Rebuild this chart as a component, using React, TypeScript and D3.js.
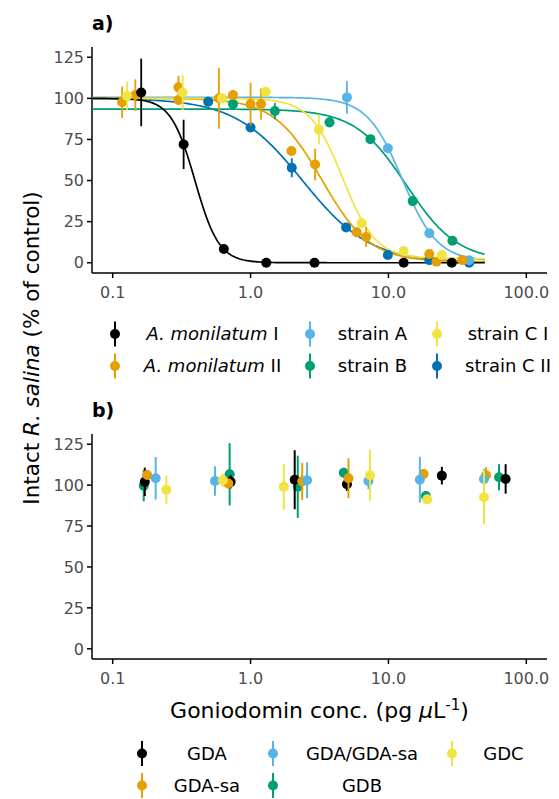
import React from "react";
import * as d3 from "d3";

// ---------- Panel a: dose-response data ----------
const seriesNamesA = ["A. monilatum I", "A. monilatum II", "strain A", "strain B", "strain C I", "strain C II"];
const legendItalicA = ["A. monilatum", "A. monilatum", "", "", "", ""];
const legendPlainA = [" I", " II", "strain A", "strain B", "strain C I", "strain C II"];
const colorsA = ["#000000", "#E69F00", "#56B4E9", "#009E73", "#F0E442", "#0072B2"];

const amI_conc = [0.161, 0.327, 0.64, 1.3, 2.91, 12.9, 28.8];
const amI_val = [103.6, 72.0, 8.3, 0, 0, 0, 0];
const amI_sd = [20.6, 15, 1.5, 0.3, 0.3, 0.3, 0.3];

const amII_conc = [0.117, 0.146, 0.3, 0.3, 0.59, 0.746, 1.0, 1.19, 1.98, 2.94, 5.89, 6.89, 19.8, 22.3, 34.4];
const amII_val = [97.6, 102, 106.7, 99, 100, 102, 96.5, 96.5, 68, 59.8, 18.5, 15.6, 5.3, 0.6, 1.6];
const amII_sd = [9.6, 9.6, 7, 3, 18.5, 3, 13, 9.5, 3, 9.5, 3, 6, 2, 1, 1];

const stA_conc = [5.0, 9.9, 19.8, 38.5];
const stA_val = [100.6, 69.6, 17.9, 1.5];
const stA_sd = [9.9, 2, 2, 1];

const stB_conc = [0.746, 1.5, 3.74, 7.4, 15.0, 29.1];
const stB_val = [96.5, 92.3, 85.4, 75.2, 37.5, 13.4];
const stB_sd = [3, 5, 3, 2, 2, 2];

const stCI_conc = [0.127, 0.322, 0.62, 1.29, 3.13, 6.4, 12.9, 24.4];
const stCI_val = [101.4, 103.6, 100, 104, 81.1, 24, 7.1, 4.7];
const stCI_sd = [8.8, 10.6, 2, 3, 9, 3, 2, 1.5];

const stCII_conc = [0.493, 1.0, 1.99, 4.93, 9.9, 19.8, 38.5];
const stCII_val = [98, 82.3, 57.8, 21.5, 4.7, 1.6, 0];
const stCII_sd = [2, 2, 5.8, 2, 1.5, 1, 0.5];

// fitted log-logistic curve parameters (per series, same order as seriesNamesA)
const fitTop = [100, 100, 100.6, 93.5, 100, 100];
const fitBottom = [0, 0.5, 1, 1, 2.5, 0];
const fitEC50 = [0.395, 3.3, 12.6, 13.5, 4.67, 2.38];
const fitSlope = [5.0, 2.5, 3.4, 2.34, 3.65, 1.775];
const fitMaxConc = 50;

// ---------- Panel b: pure toxin data ----------
const seriesNamesB = ["GDA", "GDA-sa", "GDA/GDA-sa", "GDB", "GDC"];
const colorsB = ["#000000", "#E69F00", "#56B4E9", "#009E73", "#F0E442"];

const gda_conc = [0.171, 0.717, 2.09, 5.0, 24.4, 70.8];
const gda_val = [102, 102, 103.3, 100.5, 105.8, 103.8];
const gda_sd = [8.7, 4, 18, 4, 5.4, 9];

const gdasa_conc = [0.178, 0.69, 2.37, 5.13, 18.0, 51];
const gdasa_val = [106.2, 101, 102.3, 104.2, 106.8, 106];
const gdasa_sd = [3, 3, 11.3, 12.2, 3, 5];

const mix_conc = [0.205, 0.552, 2.57, 7.16, 16.9, 49.3];
const mix_val = [104.2, 102.5, 103, 102.5, 103.3, 103.8];
const mix_sd = [13, 9, 11, 5, 14, 6];

const gdb_conc = [0.168, 0.705, 2.2, 4.74, 18.7, 63.4];
const gdb_val = [99.6, 106.6, 99, 107.6, 93.3, 104.8];
const gdb_sd = [9.5, 19, 19, 3, 3, 8];

const gdc_conc = [0.245, 0.63, 1.74, 7.36, 19.1, 49.3];
const gdc_val = [97.2, 103, 99, 106, 91.3, 92.6];
const gdc_sd = [8.6, 4, 14, 15.5, 2, 16.5];

// ---------- axes ----------
const xTicks = [0.1, 1, 10, 100];
const xTickLabels = ["0.1", "1.0", "10.0", "100.0"];
const yTicks = [0, 25, 50, 75, 100, 125];

const FONT = "'DejaVu Sans', sans-serif";

type Series = { name: string; color: string; conc: number[]; val: number[]; sd: number[] };

const panelA: Series[] = [
  { name: seriesNamesA[0], color: colorsA[0], conc: amI_conc, val: amI_val, sd: amI_sd },
  { name: seriesNamesA[1], color: colorsA[1], conc: amII_conc, val: amII_val, sd: amII_sd },
  { name: seriesNamesA[2], color: colorsA[2], conc: stA_conc, val: stA_val, sd: stA_sd },
  { name: seriesNamesA[3], color: colorsA[3], conc: stB_conc, val: stB_val, sd: stB_sd },
  { name: seriesNamesA[4], color: colorsA[4], conc: stCI_conc, val: stCI_val, sd: stCI_sd },
  { name: seriesNamesA[5], color: colorsA[5], conc: stCII_conc, val: stCII_val, sd: stCII_sd },
];
const drawOrderA = [5, 3, 2, 1, 4, 0];

const panelB: Series[] = [
  { name: seriesNamesB[0], color: colorsB[0], conc: gda_conc, val: gda_val, sd: gda_sd },
  { name: seriesNamesB[1], color: colorsB[1], conc: gdasa_conc, val: gdasa_val, sd: gdasa_sd },
  { name: seriesNamesB[2], color: colorsB[2], conc: mix_conc, val: mix_val, sd: mix_sd },
  { name: seriesNamesB[3], color: colorsB[3], conc: gdb_conc, val: gdb_val, sd: gdb_sd },
  { name: seriesNamesB[4], color: colorsB[4], conc: gdc_conc, val: gdc_val, sd: gdc_sd },
];
const drawOrderB = [3, 0, 1, 2, 4];

const X0 = 92, X1 = 547;
const xDomain: [number, number] = [Math.pow(10, -1.15), Math.pow(10, 2.15)];
const yDomain: [number, number] = [-6.25, 131.25];

function Axes({ x, y, top, bottom }: { x: d3.ScaleLogarithmic<number, number>; y: d3.ScaleLinear<number, number>; top: number; bottom: number }) {
  return (
    <g>
      <line x1={X0} x2={X0} y1={top} y2={bottom} stroke="#000" strokeWidth={1.5} />
      <line x1={X0} x2={X1} y1={bottom} y2={bottom} stroke="#000" strokeWidth={1.5} />
      {yTicks.map((t) => (
        <g key={"y" + t}>
          <line x1={X0 - 5} x2={X0} y1={y(t)} y2={y(t)} stroke="#000" strokeWidth={1.5} />
          <text x={X0 - 8} y={y(t)} dy="0.36em" textAnchor="end" fontSize={16} fill="#4D4D4D" fontFamily={FONT}>
            {t}
          </text>
        </g>
      ))}
      {xTicks.map((t, i) => (
        <g key={"x" + t}>
          <line x1={x(t)} x2={x(t)} y1={bottom} y2={bottom + 5} stroke="#000" strokeWidth={1.5} />
          <text x={x(t)} y={bottom + 25} textAnchor="middle" fontSize={16} fill="#4D4D4D" fontFamily={FONT}>
            {xTickLabels[i]}
          </text>
        </g>
      ))}
    </g>
  );
}

function PointRanges({ s, x, y, r, lw }: { s: Series; x: any; y: any; r: number; lw: number }) {
  return (
    <g>
      {s.conc.map((c, i) => (
        <g key={i}>
          <line x1={x(c)} x2={x(c)} y1={y(s.val[i] - s.sd[i])} y2={y(s.val[i] + s.sd[i])} stroke={s.color} strokeWidth={lw} />
          <circle cx={x(c)} cy={y(s.val[i])} r={r} fill={s.color} />
        </g>
      ))}
    </g>
  );
}

function LegendKey({ cx, cy, color }: { cx: number; cy: number; color: string }) {
  return (
    <g>
      <line x1={cx} x2={cx} y1={cy - 12.5} y2={cy + 12.5} stroke={color} strokeWidth={2} />
      <circle cx={cx} cy={cy} r={5} fill={color} />
    </g>
  );
}

export default function App() {
  const xA = d3.scaleLog().domain(xDomain).range([X0, X1]);
  const yA = d3.scaleLinear().domain(yDomain).range([273, 47]);
  const xB = d3.scaleLog().domain(xDomain).range([X0, X1]);
  const yB = d3.scaleLinear().domain(yDomain).range([659, 434]);

  const grid = d3.range(0, 301).map((i) => Math.pow(10, Math.log10(xDomain[0]) + (i / 300) * (Math.log10(fitMaxConc) - Math.log10(xDomain[0]))));
  const curve = (k: number) =>
    d3
      .line<number>()
      .x((c) => xA(c))
      .y((c) => yA(fitBottom[k] + (fitTop[k] - fitBottom[k]) / (1 + Math.pow(c / fitEC50[k], fitSlope[k]))))
      .curve(d3.curveLinear)(grid) as string;

  // legend layout
  const keyXA = [115, 310, 437];
  const labXA = [212.5, 372.5, 508];
  const rowYA = [334, 366];
  const keyXB = [142, 273, 452];
  const labXB = [207, 362, 503.5];
  const rowYB = [753.5, 785.5];

  return (
    <svg width={559} height={799} style={{ position: "absolute", left: 0, top: 0, background: "#fff" }} fontFamily={FONT}>
      <rect x={0} y={0} width={559} height={799} fill="#fff" />
      {/* Panel a */}
      <text x={92} y={29.5} fontSize={19} fontWeight="bold" fill="#000">a)</text>
      <Axes x={xA} y={yA} top={47} bottom={273} />
      {drawOrderA.map((k) => (
        <path key={"c" + k} d={curve(k)} fill="none" stroke={colorsA[k]} strokeWidth={1.7} />
      ))}
      {drawOrderA.map((k) => (
        <PointRanges key={"p" + k} s={panelA[k]} x={xA} y={yA} r={5} lw={1.8} />
      ))}
      {seriesNamesA.map((n, i) => {
        const col = Math.floor(i / 2);
        const row = i % 2;
        return (
          <g key={"la" + i}>
            <LegendKey cx={keyXA[col]} cy={rowYA[row]} color={colorsA[i]} />
            <text x={labXA[col]} y={rowYA[row]} dy="0.36em" textAnchor="middle" fontSize={18} fill="#000">
              {legendItalicA[i] && <tspan fontStyle="italic">{legendItalicA[i]}</tspan>}
              <tspan>{legendPlainA[i]}</tspan>
            </text>
          </g>
        );
      })}

      {/* Panel b */}
      <text x={92} y={416.5} fontSize={19} fontWeight="bold" fill="#000">b)</text>
      <Axes x={xB} y={yB} top={434} bottom={659} />
      {drawOrderB.map((k) => (
        <PointRanges key={"pb" + k} s={panelB[k]} x={xB} y={yB} r={5} lw={2} />
      ))}
      <text x={319.5} y={717.5} textAnchor="middle" fontSize={22} fill="#000">
        Goniodomin conc. (pg <tspan fontStyle="italic">μ</tspan>L
        <tspan dy={-8} fontSize={15}>-1</tspan>
        <tspan dy={8}>)</tspan>
      </text>
      {seriesNamesB.map((n, i) => {
        const col = Math.floor(i / 2);
        const row = i % 2;
        return (
          <g key={"lb" + i}>
            <LegendKey cx={keyXB[col]} cy={rowYB[row]} color={colorsB[i]} />
            <text x={labXB[col]} y={rowYB[row]} dy="0.36em" textAnchor="middle" fontSize={18} fill="#000">
              {n}
            </text>
          </g>
        );
      })}

      {/* shared y title */}
      <text transform="translate(38.5,348) rotate(-90)" textAnchor="middle" fontSize={21.5} fill="#000">
        Intact <tspan fontStyle="italic">R. salina</tspan> (% of control)
      </text>
    </svg>
  );
}
